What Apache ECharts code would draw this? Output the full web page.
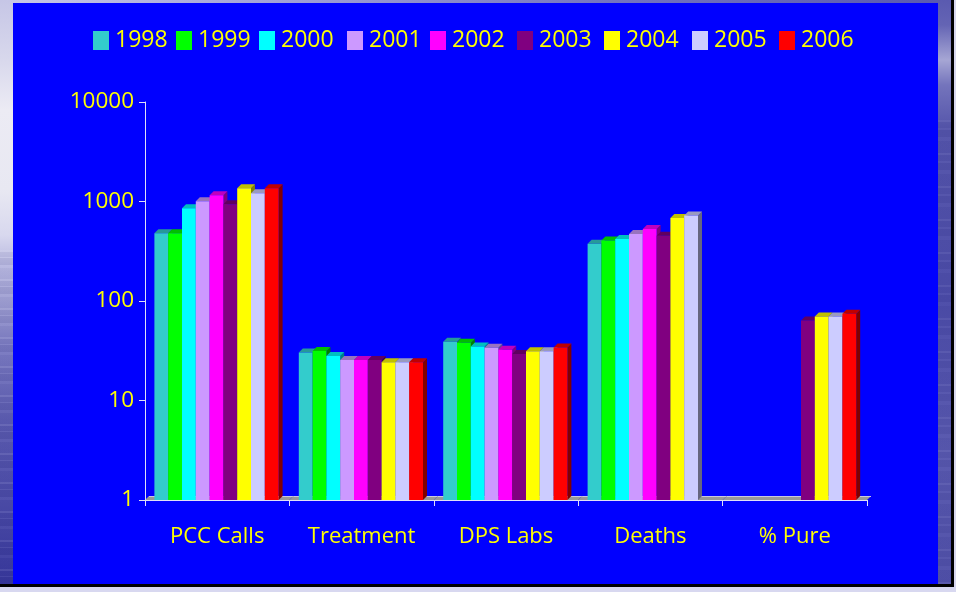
<!DOCTYPE html>
<html>
<head>
<meta charset="utf-8">
<script src="https://cdn.jsdelivr.net/npm/echarts@6/dist/echarts.min.js"></script>
<style>
  html, body { margin: 0; padding: 0; width: 956px; height: 592px; overflow: hidden; background: #d8d8f0; }
  .strip { position: absolute; }
  #left { left: 0; top: 0; width: 13px; height: 584px;
    background:
      repeating-linear-gradient(180deg, rgba(255,255,255,.08) 0 2px, rgba(0,0,70,.05) 2px 7px, rgba(255,255,255,.05) 7px 8px, rgba(0,0,70,.07) 8px 15px, rgba(255,255,255,.03) 15px 18px, rgba(0,0,70,.03) 18px 29px) 0 250px / 13px 340px no-repeat,
      linear-gradient(180deg, #c6c6e6 0, #d8d8ec 60px, #ecebf4 110px, #e8e8f2 190px, #d8d8ee 235px, #b8b8e0 265px, #9c9cd0 305px, #7c7cc2 345px, #5c5cb0 420px, #4c4ca8 500px, #38389c 584px); }
  #right { left: 938px; top: 0; width: 13px; height: 584px;
    background:
      repeating-linear-gradient(180deg, rgba(255,255,255,.05) 0 2px, rgba(0,0,70,.04) 2px 8px, rgba(255,255,255,.03) 8px 10px, rgba(0,0,70,.05) 10px 17px, rgba(255,255,255,.02) 17px 21px, rgba(0,0,70,.03) 21px 33px) 0 120px / 13px 470px no-repeat,
      linear-gradient(180deg, #5a5ab0 0, #6464b4 25px, #a6a6d4 60px, #7474bc 85px, #5454aa 130px, #4c4ca8 300px, #5858ae 450px, #5050a8 584px); }
  #top { left: 13px; top: 0; width: 925px; height: 3px;
    background: linear-gradient(90deg, #c6c6e6 0, #9c9cd4 300px, #7474c0 600px, #5a5ab0 925px); }
  #panel { left: 13px; top: 3px; width: 925px; height: 581px; background: #0000ff; }
  #edgeR { left: 951px; top: 0; width: 3px; height: 587px; background: #000; }
  #edgeB { left: 0; top: 584px; width: 954px; height: 3px; background: #000; }
  #main { position: absolute; left: 0; top: 0; width: 956px; height: 592px; }
</style>
</head>
<body>
<div class="strip" id="left"></div>
<div class="strip" id="right"></div>
<div class="strip" id="top"></div>
<div class="strip" id="panel"></div>
<div class="strip" id="edgeR"></div>
<div class="strip" id="edgeB"></div>
<div id="main"></div>
<script>
const categories = ["PCC Calls", "Treatment", "DPS Labs", "Deaths", "% Pure"];
const years = ["1998", "1999", "2000", "2001", "2002", "2003", "2004", "2005", "2006"];

const v1998 = [479, 30.3, 38.9, 376, null];
const v1999 = [479, 31.5, 38, 406, null];
const v2000 = [855, 28, 34.9, 419, null];
const v2001 = [1006, 25.6, 33.8, 471, null];
const v2002 = [1156, 25.6, 32.3, 529, null];
const v2003 = [938, 25.6, 29.4, 453, 63.6];
const v2004 = [1360, 24.3, 31.3, 682, 69.8];
const v2005 = [1211, 24.3, 31.3, 725, 69.8];
const v2006 = [1360, 24.3, 34, null, 74.3];
const values = [v1998, v1999, v2000, v2001, v2002, v2003, v2004, v2005, v2006];

const colors = ["#33cccc", "#00ff00", "#00ffff", "#cc99ff", "#ff00ff", "#800080", "#ffff00", "#ccccff", "#ff0000"];
const legendLeft = [93, 176, 259, 347, 430, 517, 604, 692, 779];

const FONT = "'Open Sans', sans-serif";
const BAR_W = 13.8;
const BAR_OFFSET = 9.4;
const DEPTH = 4;

function shade(hex, k) {
  const n = parseInt(hex.slice(1), 16);
  const r = Math.round((n >> 16 & 255) * k);
  const g = Math.round((n >> 8 & 255) * k);
  const b = Math.round((n & 255) * k);
  return "rgb(" + r + "," + g + "," + b + ")";
}

function polygon(points, fill) {
  return { type: "polygon", shape: { points: points }, style: { fill: fill } };
}

// 3d looking bar: front, top and side face
function barRenderer(seriesIndex) {
  return function (params, api) {
    const v = api.value(1);
    if (isNaN(v)) return;
    const i = api.value(0);
    const band = api.size([1, 0])[0];
    const left = api.coord([i, 1])[0] - band / 2 + BAR_OFFSET + seriesIndex * BAR_W;
    const base = api.coord([i, 1])[1];
    const top = api.coord([i, v])[1];
    const right = left + BAR_W;
    const c = colors[seriesIndex];
    return {
      type: "group",
      children: [
        polygon([[right, top], [right + DEPTH, top - DEPTH], [right + DEPTH, base - DEPTH], [right, base]], shade(c, 0.5)),
        polygon([[left, top], [left + DEPTH, top - DEPTH], [right + DEPTH, top - DEPTH], [right, top]], shade(c, 0.75)),
        polygon([[left, top], [right, top], [right, base], [left, base]], c)
      ]
    };
  };
}

// chart floor, one piece per category
function floorRenderer(params, api) {
  const i = api.value(0);
  const band = api.size([1, 0])[0];
  const x = api.coord([i, 1])[0] - band / 2;
  const y = api.coord([i, 1])[1];
  return {
    type: "group",
    children: [
      polygon([[x, y], [x + DEPTH, y - DEPTH], [x + band + DEPTH, y - DEPTH], [x + band, y]], "#999999"),
      { type: "line", shape: { x1: x + DEPTH, y1: y - DEPTH + 0.5, x2: x + band + DEPTH, y2: y - DEPTH + 0.5 }, style: { stroke: "#c8c8e0", lineWidth: 1 } }
    ]
  };
}

const series = [{
  type: "custom",
  name: "floor",
  silent: true,
  z: 1,
  renderItem: floorRenderer,
  data: categories.map((c, i) => [i, 1])
}];
years.forEach((y, s) => {
  series.push({
    type: "custom",
    name: y,
    z: 2 + s,
    itemStyle: { color: colors[s] },
    renderItem: barRenderer(s),
    encode: { x: 0, y: 1 },
    data: values[s].map((v, i) => [i, v])
  });
});

const chart = echarts.init(document.getElementById("main"), null, { renderer: "canvas" });
chart.setOption({
  animation: false,
  backgroundColor: "transparent",
  textStyle: { fontFamily: FONT },
  legend: years.map((y, i) => ({
    data: [y],
    left: legendLeft[i],
    top: 29,
    padding: 0,
    icon: "rect",
    itemWidth: 16,
    itemHeight: 19,
    itemGap: 0,
    selectedMode: false,
    textStyle: { color: "#ffff00", fontSize: 23, fontFamily: FONT, padding: [0, 0, 0, 1] }
  })),
  grid: { left: 145, right: 89, top: 102, bottom: 92 },
  xAxis: {
    type: "category",
    data: categories,
    z: 20,
    axisLine: { lineStyle: { color: "#e0e0f8", width: 1 } },
    axisTick: { show: true, length: 6, alignWithLabel: false, lineStyle: { color: "#e0e0f8" } },
    axisLabel: { color: "#ffff00", fontSize: 22, margin: 26, interval: 0, fontFamily: FONT }
  },
  yAxis: {
    type: "log",
    logBase: 10,
    min: 1,
    max: 10000,
    z: 20,
    axisLine: { show: true, lineStyle: { color: "#e0e0f8", width: 1 } },
    axisTick: { show: true, length: 6, lineStyle: { color: "#e0e0f8" } },
    minorTick: { show: false },
    splitLine: { show: false },
    axisLabel: { color: "#ffff00", fontSize: 22.5, margin: 11, padding: [4, 0, 0, 0], fontFamily: FONT, formatter: v => String(Math.round(v)) }
  },
  series: series
});
</script>
</body>
</html>
